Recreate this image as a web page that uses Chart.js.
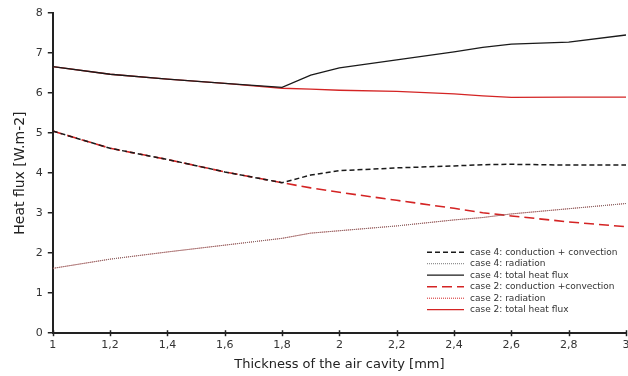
<!DOCTYPE html>
<html><head><meta charset="utf-8">
<script src="https://cdn.jsdelivr.net/npm/chart.js@4/dist/chart.umd.min.js"></script>
<style>
html,body{margin:0;padding:0;background:#fff;overflow:hidden;width:628px;height:376px;}
#wrap{position:absolute;left:0;top:0;width:636px;height:376px;}
</style></head>
<body>
<div id="wrap"><canvas id="c"></canvas></div>
<script>
const thickness = [1, 1.2, 1.4, 1.6, 1.8, 1.9, 2, 2.2, 2.4, 2.5, 2.6, 2.8, 3];
const xTicks = [1, 1.2, 1.4, 1.6, 1.8, 2, 2.2, 2.4, 2.6, 2.8, 3];
const yTicks = [0, 1, 2, 3, 4, 5, 6, 7, 8];
const case4Conduction = [5.05, 4.62, 4.34, 4.03, 3.76, 3.95, 4.06, 4.13, 4.18, 4.21, 4.22, 4.2, 4.2];
const case4Radiation  = [1.62, 1.85, 2.03, 2.2, 2.37, 2.5, 2.56, 2.68, 2.83, 2.89, 2.98, 3.11, 3.24];
const case4Total      = [6.66, 6.47, 6.35, 6.24, 6.14, 6.45, 6.63, 6.83, 7.03, 7.14, 7.22, 7.27, 7.45];
const case2Conduction = [5.05, 4.62, 4.34, 4.03, 3.76, 3.63, 3.52, 3.32, 3.12, 3.01, 2.93, 2.78, 2.66];
const case2Radiation  = [1.62, 1.85, 2.03, 2.2, 2.37, 2.5, 2.56, 2.68, 2.83, 2.89, 2.98, 3.11, 3.24];
const case2Total      = [6.66, 6.47, 6.35, 6.24, 6.12, 6.1, 6.07, 6.04, 5.98, 5.93, 5.89, 5.9, 5.9];
const seriesLabels = ['case 4: conduction + convection', 'case 4: radiation', 'case 4: total heat flux',
  'case 2: conduction +convection', 'case 2: radiation', 'case 2: total heat flux'];

const RED = '#d42424', BLK = '#1a1a1a', GRY = '#777';
function pts(ys){ return thickness.map((x,i)=>({x:x,y:ys[i]})); }
const styles = [
  {c:BLK, d:[5,3], w:1.5},
  {c:GRY, d:[1,1], w:1},
  {c:BLK, d:[], w:1.3},
  {c:RED, d:[10,5], w:1.6},
  {c:RED, d:[1,1], w:1},
  {c:RED, d:[], w:1.3}
];
const series = [case4Conduction, case4Radiation, case4Total, case2Conduction, case2Radiation, case2Total];
const datasets = series.map((s,i)=>({
  label: seriesLabels[i], data: pts(s), borderColor: styles[i].c, borderDash: styles[i].d,
  borderWidth: styles[i].w, pointRadius: 0, tension: 0, fill: false
}));

const extras = {
  id: 'extras',
  afterDatasetsDraw(chart){
    const ctx = chart.ctx, ca = chart.chartArea;
    const xs = chart.scales.x;
    ctx.save();
    ctx.strokeStyle = '#222'; ctx.lineWidth = 1.5;
    xTicks.forEach(v=>{
      const px = Math.round(xs.getPixelForValue(v)) + 0.5;
      ctx.beginPath(); ctx.moveTo(px, ca.bottom - 3); ctx.lineTo(px, ca.bottom + 3); ctx.stroke();
    });
    const x0 = ca.right - 199, y0 = ca.bottom - 81, step = 11.5;
    ctx.font = '9px "DejaVu Sans"';
    ctx.textBaseline = 'middle';
    chart.data.datasets.forEach((ds,i)=>{
      const y = y0 + i*step;
      ctx.beginPath();
      ctx.strokeStyle = ds.borderColor; ctx.lineWidth = ds.borderWidth;
      ctx.setLineDash(ds.borderDash);
      ctx.moveTo(x0, y); ctx.lineTo(x0+37, y); ctx.stroke();
      ctx.setLineDash([]);
      ctx.fillStyle = '#333';
      ctx.fillText(ds.label, x0+43, y);
    });
    ctx.restore();
  }
};

new Chart(document.getElementById('c'), {
  type: 'line',
  data: { datasets: datasets },
  options: {
    responsive: true, maintainAspectRatio: false, animation: false,
    layout: { padding: { left: 12, right: 10, top: 13, bottom: 4 } },
    plugins: { legend: { display: false }, tooltip: { enabled: false } },
    scales: {
      x: {
        type: 'linear', min: 1, max: 3,
        afterBuildTicks(axis){ axis.ticks = xTicks.map(v=>({value:v})); },
        border: { color: '#222', width: 2 },
        grid: { display: false, drawTicks: false },
        ticks: { color: '#333', font: { family: 'DejaVu Sans', size: 11 }, padding: 5, maxRotation: 0,
          callback: v => String(Math.round(v*10)/10).replace('.', ',') },
        title: { display: true, text: 'Thickness of the air cavity [mm]', color: '#222',
          font: { family: 'DejaVu Sans', size: 13 }, padding: { top: 0, bottom: 0 } }
      },
      y: {
        min: 0, max: 8,
        afterBuildTicks(axis){ axis.ticks = yTicks.map(v=>({value:v})); },
        border: { color: '#222', width: 2 },
        grid: { display: true, drawOnChartArea: false, drawTicks: true, tickLength: 5, color: '#222', lineWidth: 1.5 },
        ticks: { color: '#333', font: { family: 'DejaVu Sans', size: 11 }, padding: 5 },
        title: { display: true, text: 'Heat flux [W.m-2]', color: '#222',
          font: { family: 'DejaVu Sans', size: 14 }, padding: { top: 0, bottom: 2 } }
      }
    }
  },
  plugins: [extras]
});
</script>
</body></html>
